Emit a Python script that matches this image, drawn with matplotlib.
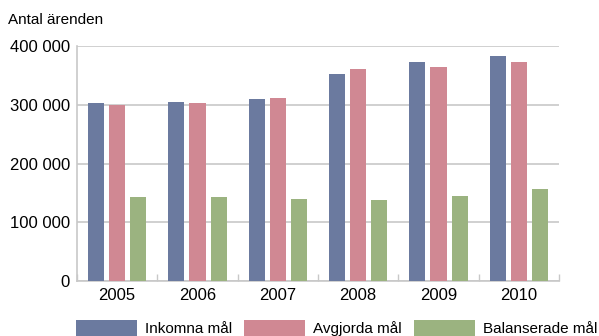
import matplotlib.pyplot as plt
import numpy as np

years = ['2005', '2006', '2007', '2008', '2009', '2010']
inkomna = [303000, 304500, 310000, 352000, 373000, 383000]
avgjorda = [299500, 303000, 311500, 361000, 364000, 373000]
balanserade = [143000, 143000, 139500, 138000, 144500, 156500]
series_names = ['Inkomna mål', 'Avgjorda mål', 'Balanserade mål']
colors = ['#6b7a9f', '#d08893', '#9bb380']
yticks = [0, 100000, 200000, 300000, 400000]

plt.rcParams['font.family'] = ['Liberation Sans', 'DejaVu Sans']

W, H = 599, 336
fig = plt.figure(figsize=(W / 100, H / 100), dpi=100)
# axes in pixel coordinates: left 77, right 559, top 46, bottom 281
ax = fig.add_axes([77 / W, 1 - 281 / H, (559 - 77) / W, (281 - 46) / H])

x = np.arange(len(years))
width = 0.2
offset = 0.262
for i, (vals, c, name) in enumerate(zip([inkomna, avgjorda, balanserade], colors, series_names)):
    ax.bar(x + (i - 1) * offset, vals, width, color=c, label=name, zorder=3)

ax.set_xlim(-0.5, len(years) - 0.5)
ax.set_ylim(0, 400000)
ax.set_yticks(yticks)
ax.set_yticklabels([f'{v:,}'.replace(',', ' ') for v in yticks], fontsize=12)
ax.set_xticks(x)
ax.set_xticklabels(years, fontsize=12)
ax.tick_params(axis='x', length=0, pad=5)
ax.tick_params(axis='y', length=0, pad=5)
# small tick marks between categories
ax.set_xticks(np.arange(-0.5, len(years)), minor=True)
ax.tick_params(axis='x', which='minor', length=5, direction='in', color='#c8c8c8', width=1)

ax.grid(axis='y', color='#c8c8c8', linewidth=1.2, zorder=0)
for s in ['top', 'right']:
    ax.spines[s].set_visible(False)
for s in ['left', 'bottom']:
    ax.spines[s].set_color('#c8c8c8')
    ax.spines[s].set_linewidth(1.2)

fig.text(8 / W, 1 - 20 / H, 'Antal ärenden', fontsize=11, va='center', ha='left')

fig.legend(loc='center', bbox_to_anchor=(0.5618, 1 - 328 / H), ncol=3, frameon=False,
           fontsize=11, handlelength=4.0, handleheight=1.3, columnspacing=0.8,
           handletextpad=0.5, borderpad=0, borderaxespad=0)

fig.savefig('out.png', dpi=100)
